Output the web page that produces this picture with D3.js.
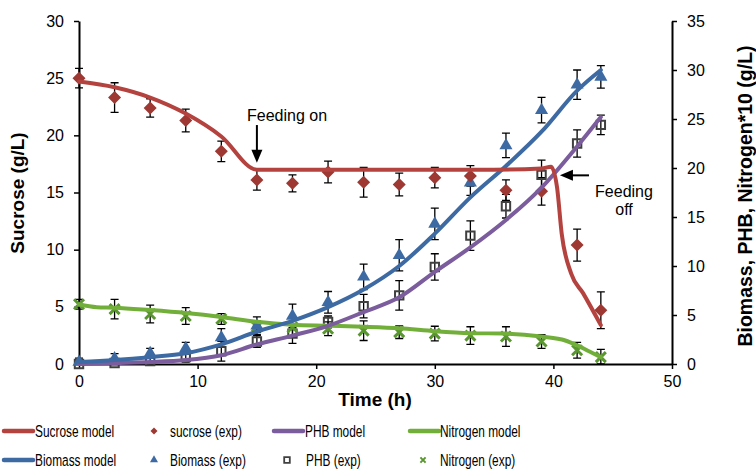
<!DOCTYPE html>
<html>
<head>
<meta charset="utf-8">
<script src="https://cdn.jsdelivr.net/npm/d3@7"></script>
<style>
  body { margin: 0; background: #fff; }
  svg text { font-family: "Liberation Sans", Arial, sans-serif; fill: #000; }
</style>
</head>
<body>
<svg id="chart" width="756" height="469"></svg>
<script>
// sampling times of the experiment (h)
const time = [0, 3, 6, 9, 12, 15, 18, 21, 24, 27, 30, 33, 36, 39, 42, 44];

// experimental points (sucrose on left axis, rest on right axis)
const sucroseExp  = [25.0, 23.3, 22.4, 21.3, 18.6, 16.1, 15.8, 16.8, 15.9, 15.7, 16.3, 16.45, 15.2, 15.1, 10.4, 4.7];
const sucroseErr  = [0.85, 1.3, 0.8, 1.0, 0.9, 0.9, 0.75, 0.95, 1.3, 1.0, 0.9, 0.9, 0.9, 1.2, 1.4, 1.6];
const biomassExp  = [0.2, 0.55, 1.1, 1.6, 2.7, 3.9, 4.9, 6.3, 8.9, 11.1, 14.3, 18.5, 22.3, 25.9, 28.5, 29.3];
const biomassErr  = [0.4, 0.5, 0.5, 0.6, 0.9, 0.9, 1.2, 1.1, 1.3, 1.6, 1.6, 1.3, 1.25, 1.3, 1.5, 1.15];
const phbExp      = [0.0, 0.1, 0.3, 0.7, 1.3, 2.3, 3.1, 4.3, 5.9, 7.0, 9.9, 13.1, 16.1, 19.3, 22.5, 24.4];
const phbErr      = [0.3, 0.3, 0.4, 0.5, 1.0, 0.6, 1.0, 0.6, 1.2, 1.5, 1.35, 1.5, 1.2, 1.5, 1.4, 1.0];
const nitrogenExp = [6.1, 5.6, 5.1, 4.9, 4.6, 3.8, 3.75, 3.6, 3.4, 3.25, 3.1, 2.9, 2.8, 2.3, 1.4, 0.7];
const nitrogenErr = [0.5, 1.0, 0.9, 0.85, 0.55, 0.6, 1.0, 0.7, 1.0, 0.65, 0.75, 0.9, 1.0, 0.7, 0.8, 0.8];

// model curves
const sucroseModelT = [0, 3, 6, 9, 12, 15, 16, 25, 35, 39, 39.8, 40.3, 40.7, 41.5, 42.5, 44];
const sucroseModel  = [24.7, 24.2, 23.3, 21.9, 19.9, 17.0, 17.0, 17.0, 17.0, 17.1, 17.25, 15.5, 11.4, 7.9, 6.2, 3.4];
const biomassModelT = [0, 3, 6, 9, 12, 15, 18, 21, 24, 27, 30, 33, 36, 39, 42, 44];
const biomassModel  = [0.2, 0.4, 0.7, 1.1, 2.0, 3.3, 4.4, 5.8, 7.6, 10.0, 13.3, 17.0, 20.2, 23.7, 27.9, 30.0];
const phbModelT     = [0, 3, 6, 9, 12, 15, 18, 21, 24, 27, 30, 33, 36, 39, 42, 44];
const phbModel      = [0.0, 0.1, 0.2, 0.4, 0.9, 2.0, 2.9, 3.9, 5.3, 6.8, 9.4, 11.9, 14.7, 18.0, 22.2, 25.2];
const nitrogenModelT = [0, 1.5, 3, 6, 9, 12, 15, 18, 21, 24, 27, 30, 33, 36, 39, 41, 42, 43, 44];
const nitrogenModel  = [6.1, 5.8, 5.75, 5.5, 5.2, 4.8, 4.3, 4.0, 3.9, 3.8, 3.65, 3.35, 3.15, 3.1, 2.8, 2.4, 1.9, 1.3, 0.7];

const xTicks = [0, 10, 20, 30, 40, 50];
const yLeftTicks = [0, 5, 10, 15, 20, 25, 30];
const yRightTicks = [0, 5, 10, 15, 20, 25, 30, 35];

const legendRow1 = ["Sucrose model", "sucrose (exp)", "PHB model", "Nitrogen model"];
const legendRow2 = ["Biomass model", "Biomass (exp)", "PHB (exp)", "Nitrogen (exp)"];

const col = {
  sucrose: "#B4433F", sucroseDot: "#9E3833",
  biomass: "#3D6AA2", phb: "#7B5C9C", phbDot: "#404040",
  nitrogen: "#72AF3A", nitrogenDot: "#5A9630"
};

const svg = d3.select("#chart");
const x = d3.scaleLinear([0, 50], [79, 672]);
const yL = d3.scaleLinear([0, 30], [364, 21]);
const yR = d3.scaleLinear([0, 35], [364, 21]);

// axes
function styleAxis(g) {
  g.select(".domain").attr("stroke", "#000").attr("stroke-width", 2);
  g.selectAll(".tick line").attr("stroke", "#000").attr("stroke-width", 1.5);
  g.selectAll(".tick text").attr("font-size", 16);
}
svg.append("g").attr("transform", "translate(0,364)")
  .call(d3.axisBottom(x).tickValues(xTicks).tickSize(5).tickSizeOuter(0).tickPadding(7))
  .call(styleAxis);
svg.append("g").attr("transform", "translate(79,0)")
  .call(d3.axisLeft(yL).tickValues(yLeftTicks).tickSize(5).tickSizeOuter(0).tickPadding(10))
  .call(styleAxis);
svg.append("g").attr("transform", "translate(672,0)")
  .call(d3.axisRight(yR).tickValues(yRightTicks).tickSize(5).tickSizeOuter(0).tickPadding(10))
  .call(styleAxis);

// axis titles
svg.append("text").attr("x", 375).attr("y", 406).attr("text-anchor", "middle")
  .attr("font-size", 19).attr("font-weight", "bold").text("Time (h)");
svg.append("text").attr("transform", "translate(24,193) rotate(-90)").attr("text-anchor", "middle")
  .attr("font-size", 19).attr("font-weight", "bold").text("Sucrose (g/L)");
svg.append("text").attr("transform", "translate(752,196) rotate(-90)").attr("text-anchor", "middle")
  .attr("font-size", 19.5).attr("font-weight", "bold").text("Biomass, PHB, Nitrogen*10 (g/L)");

// error bars
function errBars(vals, errs, y) {
  svg.append("g").attr("stroke", "#000").attr("stroke-width", 1.3).attr("fill", "none")
    .selectAll("path").data(time).join("path")
    .attr("d", (t, i) => {
      const cx = x(t), y1 = y(vals[i] + errs[i]), y2 = y(Math.max(0, vals[i] - errs[i]));
      return `M${cx},${y1}V${y2}M${cx - 4},${y1}H${cx + 4}M${cx - 4},${y2}H${cx + 4}`;
    });
}
errBars(nitrogenExp, nitrogenErr, yR);
errBars(phbExp, phbErr, yR);
errBars(biomassExp, biomassErr, yR);
errBars(sucroseExp, sucroseErr, yL);

// marker shapes
const diamond = s => `M0,${-s}L${s},0L0,${s}L${-s},0Z`;
const cross = s => `M${-s},${-s}L${s},${s}M${-s},${s}L${s},${-s}`;
const tri = d3.symbol(d3.symbolTriangle, 74)();
const triSmall = d3.symbol(d3.symbolTriangle, 28)();

function markers(vals, y, draw) {
  const g = svg.append("g");
  g.selectAll("path").data(time).join("path")
    .attr("transform", (t, i) => `translate(${x(t)},${y(vals[i])})`)
    .call(draw);
}
markers(phbExp, yR, p => p.attr("d", "M-4.2,-4.2H4.2V4.2H-4.2Z").attr("fill", "none")
  .attr("stroke", col.phbDot).attr("stroke-width", 2));
markers(nitrogenExp, yR, p => p.attr("d", cross(5)).attr("fill", "none")
  .attr("stroke", col.nitrogenDot).attr("stroke-width", 3));
markers(biomassExp, yR, p => p.attr("d", tri).attr("fill", col.biomass));
markers(sucroseExp, yL, p => p.attr("d", diamond(6.5)).attr("fill", col.sucroseDot));

// model lines
function modelLine(ts, vs, y, color) {
  const line = d3.line().x(d => x(d[0])).y(d => y(d[1])).curve(d3.curveMonotoneX);
  svg.append("path").datum(d3.zip(ts, vs)).attr("d", line)
    .attr("fill", "none").attr("stroke", color).attr("stroke-width", 4)
    .attr("stroke-linecap", "round").attr("stroke-linejoin", "round");
}
modelLine(nitrogenModelT, nitrogenModel, yR, col.nitrogen);
modelLine(phbModelT, phbModel, yR, col.phb);
modelLine(biomassModelT, biomassModel, yR, col.biomass);
modelLine(sucroseModelT, sucroseModel, yL, col.sucrose);

// annotations: feeding on / off arrows
function arrow(x1, y1, x2, y2) {
  const a = Math.atan2(y2 - y1, x2 - x1);
  const len = Math.hypot(x2 - x1, y2 - y1);
  const g = svg.append("g").attr("transform", `translate(${x1},${y1}) rotate(${a * 180 / Math.PI})`);
  g.append("line").attr("x1", 0).attr("y1", 0).attr("x2", len - 10).attr("y2", 0)
    .attr("stroke", "#000").attr("stroke-width", 2);
  g.append("path").attr("d", `M${len},0L${len - 13},-5.5L${len - 13},5.5Z`).attr("fill", "#000");
}
arrow(x(15), yL(20.9), x(15), yL(17.6));
arrow(x(43), yL(16.5), x(40.55), yL(16.5));
svg.append("text").attr("x", 287).attr("y", 121).attr("text-anchor", "middle")
  .attr("font-size", 16).text("Feeding on");
svg.append("text").attr("x", 624).attr("y", 197).attr("text-anchor", "middle")
  .attr("font-size", 16).text("Feeding");
svg.append("text").attr("x", 624).attr("y", 215).attr("text-anchor", "middle")
  .attr("font-size", 16).text("off");

// legend
const leg = svg.append("g");
function legText(tx, ty, s) {
  leg.append("text").attr("transform", `translate(${tx},${ty + 6}) scale(0.72,1)`)
    .attr("font-size", 16.5).text(s);
}
function legLine(lx, ly, color) {
  leg.append("line").attr("x1", lx).attr("x2", lx + 29).attr("y1", ly).attr("y2", ly)
    .attr("stroke", color).attr("stroke-width", 4.5).attr("stroke-linecap", "round");
}
const r1 = 431, r2 = 460;
legLine(4, r1, col.sucrose); legText(35, r1, legendRow1[0]);
leg.append("path").attr("d", diamond(3.5)).attr("transform", `translate(154,${r1})`).attr("fill", col.sucroseDot);
legText(170, r1, legendRow1[1]);
legLine(274, r1, col.phb); legText(305, r1, legendRow1[2]);
legLine(410, r1, col.nitrogen); legText(440, r1, legendRow1[3]);

legLine(4, r2, col.biomass); legText(35, r2, legendRow2[0]);
leg.append("path").attr("d", triSmall).attr("transform", `translate(154,${r2})`).attr("fill", col.biomass);
legText(170, r2, legendRow2[1]);
leg.append("path").attr("d", "M-2.8,-2.8H2.8V2.8H-2.8Z").attr("transform", `translate(287,${r2})`)
  .attr("fill", "none").attr("stroke", col.phbDot).attr("stroke-width", 1.8);
legText(306, r2, legendRow2[2]);
leg.append("path").attr("d", cross(2.6)).attr("transform", `translate(423,${r2})`)
  .attr("fill", "none").attr("stroke", col.nitrogenDot).attr("stroke-width", 2);
legText(440, r2, legendRow2[3]);
</script>
</body>
</html>
